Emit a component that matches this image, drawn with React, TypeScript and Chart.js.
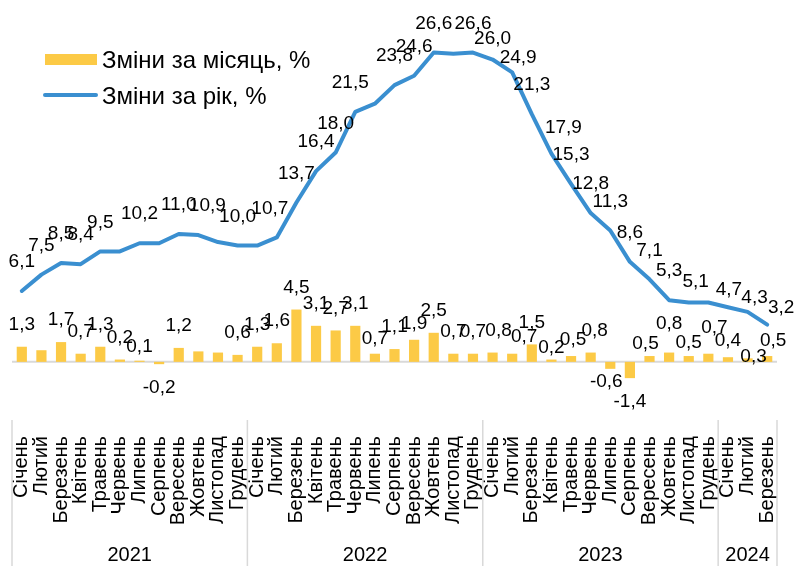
import React, { useEffect, useRef } from 'react';
import { Chart, registerables } from 'chart.js';

Chart.register(...registerables);

const monthNames = ['Січень', 'Лютий', 'Березень', 'Квітень', 'Травень', 'Червень', 'Липень', 'Серпень', 'Вересень', 'Жовтень', 'Листопад', 'Грудень'];
const years = ['2021', '2022', '2023', '2024'];
const monthsPerYear = [12, 12, 12, 3];

const monthlyChange = [
  1.3, 1.0, 1.7, 0.7, 1.3, 0.2, 0.1, -0.2, 1.2, 0.9, 0.8, 0.6,
  1.3, 1.6, 4.5, 3.1, 2.7, 3.1, 0.7, 1.1, 1.9, 2.5, 0.7, 0.7,
  0.8, 0.7, 1.5, 0.2, 0.5, 0.8, -0.6, -1.4, 0.5, 0.8, 0.5, 0.7,
  0.4, 0.3, 0.5,
];
const yearlyChange = [
  6.1, 7.5, 8.5, 8.4, 9.5, 9.5, 10.2, 10.2, 11.0, 10.9, 10.3, 10.0,
  10.0, 10.7, 13.7, 16.4, 18.0, 21.5, 22.2, 23.8, 24.6, 26.6, 26.5, 26.6,
  26.0, 24.9, 21.3, 17.9, 15.3, 12.8, 11.3, 8.6, 7.1, 5.3, 5.1, 5.1,
  4.7, 4.3, 3.2,
];
const monthlyHiddenLabels = [1, 9, 10];
const yearlyHiddenLabels = [5, 7, 10, 12, 18, 22, 35];

const seriesNames = ['Зміни за місяць, %', 'Зміни за рік, %'];

// small manual label nudges (dx, dy in px), as in the original
const yearlyLabelNudge: Record<number, [number, number]> = {
  9: [9, 0], 13: [-7, 0], 17: [-5, 0], 24: [0, 8], 25: [6, 14], 27: [12, 3],
  34: [7, 8], 36: [1, 12], 37: [7, 15], 38: [14, 12],
};
const monthlyLabelNudge: Record<number, [number, number]> = {
  6: [0, 8], 18: [0, 7], 20: [0, 6], 24: [6, 0], 25: [12, 5], 27: [0, 10], 28: [2, 6],
  29: [4, 0], 30: [-4, -11], 32: [-4, 10], 33: [0, -7], 34: [0, 9], 35: [6, -4],
  36: [0, 6], 37: [6, 20], 38: [6, 7],
};

const YELLOW = '#FCCA46';
const BLUE = '#3A8FD0';
const GRAY = '#D9D9D9';
const FONT = "'Liberation Sans', Arial, sans-serif";

const categories: string[] = [];
monthsPerYear.forEach((n) => {
  for (let i = 0; i < n; i++) categories.push(monthNames[i]);
});

const fmt = (v: number) => v.toFixed(1).replace('.', ',');

const decorPlugin = {
  id: 'decor',
  beforeDatasetsDraw(chart: any) {
    const { ctx, chartArea, scales } = chart;
    const y0 = scales.y.getPixelForValue(0);
    ctx.save();
    ctx.strokeStyle = GRAY;
    ctx.lineWidth = 2;
    ctx.beginPath();
    ctx.moveTo(chartArea.left, y0);
    ctx.lineTo(chartArea.right, y0);
    ctx.stroke();
    ctx.restore();
  },
  afterDatasetsDraw(chart: any) {
    const { ctx } = chart;
    ctx.save();
    ctx.fillStyle = '#000';
    ctx.font = `19px ${FONT}`;
    ctx.textAlign = 'center';
    ctx.textBaseline = 'middle';
    chart.data.datasets.forEach((ds: any, di: number) => {
      const meta = chart.getDatasetMeta(di);
      meta.data.forEach((el: any, i: number) => {
        const v = ds.data[i];
        if (ds.type === 'bar') {
          if (monthlyHiddenLabels.includes(i)) return;
          const [dx, dy] = monthlyLabelNudge[i] || [0, 0];
          if (v >= 0) ctx.fillText(fmt(v), el.x + dx, Math.min(el.y, el.base) - 22 + dy);
          else ctx.fillText(fmt(v), el.x + dx, Math.max(el.y, el.base) + 24 + dy);
        } else {
          if (yearlyHiddenLabels.includes(i)) return;
          const [dx, dy] = yearlyLabelNudge[i] || [0, 0];
          ctx.fillText(fmt(v), el.x + dx, el.y - 29 + dy);
        }
      });
    });
    ctx.restore();
  },
  afterDraw(chart: any) {
    const { ctx, chartArea, scales, height } = chart;
    const xs = scales.x;
    const pitch = xs.getPixelForValue(1) - xs.getPixelForValue(0);
    ctx.save();
    ctx.strokeStyle = GRAY;
    ctx.lineWidth = 1.5;
    let start = 0;
    const bounds: number[] = [xs.getPixelForValue(0) - pitch / 2];
    monthsPerYear.forEach((n) => {
      start += n;
      bounds.push(xs.getPixelForValue(start - 1) + pitch / 2);
    });
    bounds.forEach((bx) => {
      ctx.beginPath();
      ctx.moveTo(bx, chartArea.bottom);
      ctx.lineTo(bx, height);
      ctx.stroke();
    });
    ctx.fillStyle = '#000';
    ctx.font = `20px ${FONT}`;
    ctx.textAlign = 'center';
    ctx.textBaseline = 'middle';
    years.forEach((yr, i) => {
      ctx.fillText(yr, (bounds[i] + bounds[i + 1]) / 2, 555);
    });
    // legend
    ctx.fillStyle = YELLOW;
    ctx.fillRect(45, 54, 52, 11);
    ctx.strokeStyle = BLUE;
    ctx.lineWidth = 4;
    ctx.lineCap = 'round';
    ctx.beginPath();
    ctx.moveTo(45, 95);
    ctx.lineTo(96, 95);
    ctx.stroke();
    ctx.fillStyle = '#000';
    ctx.font = `24px ${FONT}`;
    ctx.textAlign = 'left';
    ctx.fillText(seriesNames[0], 102, 61);
    ctx.fillText(seriesNames[1], 102, 97);
    ctx.restore();
  },
};

export default function App() {
  const ref = useRef<HTMLCanvasElement | null>(null);
  useEffect(() => {
    if (!ref.current) return;
    const chart = new Chart(ref.current, {
      type: 'bar',
      data: {
        labels: categories,
        datasets: [
          {
            type: 'line',
            label: seriesNames[1],
            data: yearlyChange,
            borderColor: BLUE,
            backgroundColor: BLUE,
            borderWidth: 4,
            pointRadius: 0,
            tension: 0,
            borderCapStyle: 'round',
            borderJoinStyle: 'round',
            order: 0,
          } as any,
          {
            type: 'bar',
            label: seriesNames[0],
            data: monthlyChange,
            backgroundColor: YELLOW,
            barPercentage: 0.52,
            categoryPercentage: 1,
            order: 1,
          } as any,
        ],
      },
      options: {
        responsive: false,
        animation: false,
        layout: { padding: { left: 12, right: 18, top: 13, bottom: 0 } },
        plugins: { legend: { display: false }, tooltip: { enabled: false } },
        scales: {
          x: {
            offset: true,
            grid: { display: false },
            border: { display: false },
            ticks: {
              autoSkip: false,
              maxRotation: 90,
              minRotation: 90,
              padding: 8,
              color: '#000',
              font: { family: FONT, size: 20 },
            },
            afterFit: (s: any) => {
              s.height = 146;
              s.paddingLeft = 0;
              s.paddingRight = 0;
            },
          },
          y: { display: false, min: -5, max: 30 },
        },
      },
      plugins: [decorPlugin],
    });
    return () => chart.destroy();
  }, []);
  return (
    <div style={{ position: 'fixed', left: 0, top: 0, width: 795, height: 566, background: '#fff' }}>
      <canvas ref={ref} width={795} height={566} />
    </div>
  );
}
